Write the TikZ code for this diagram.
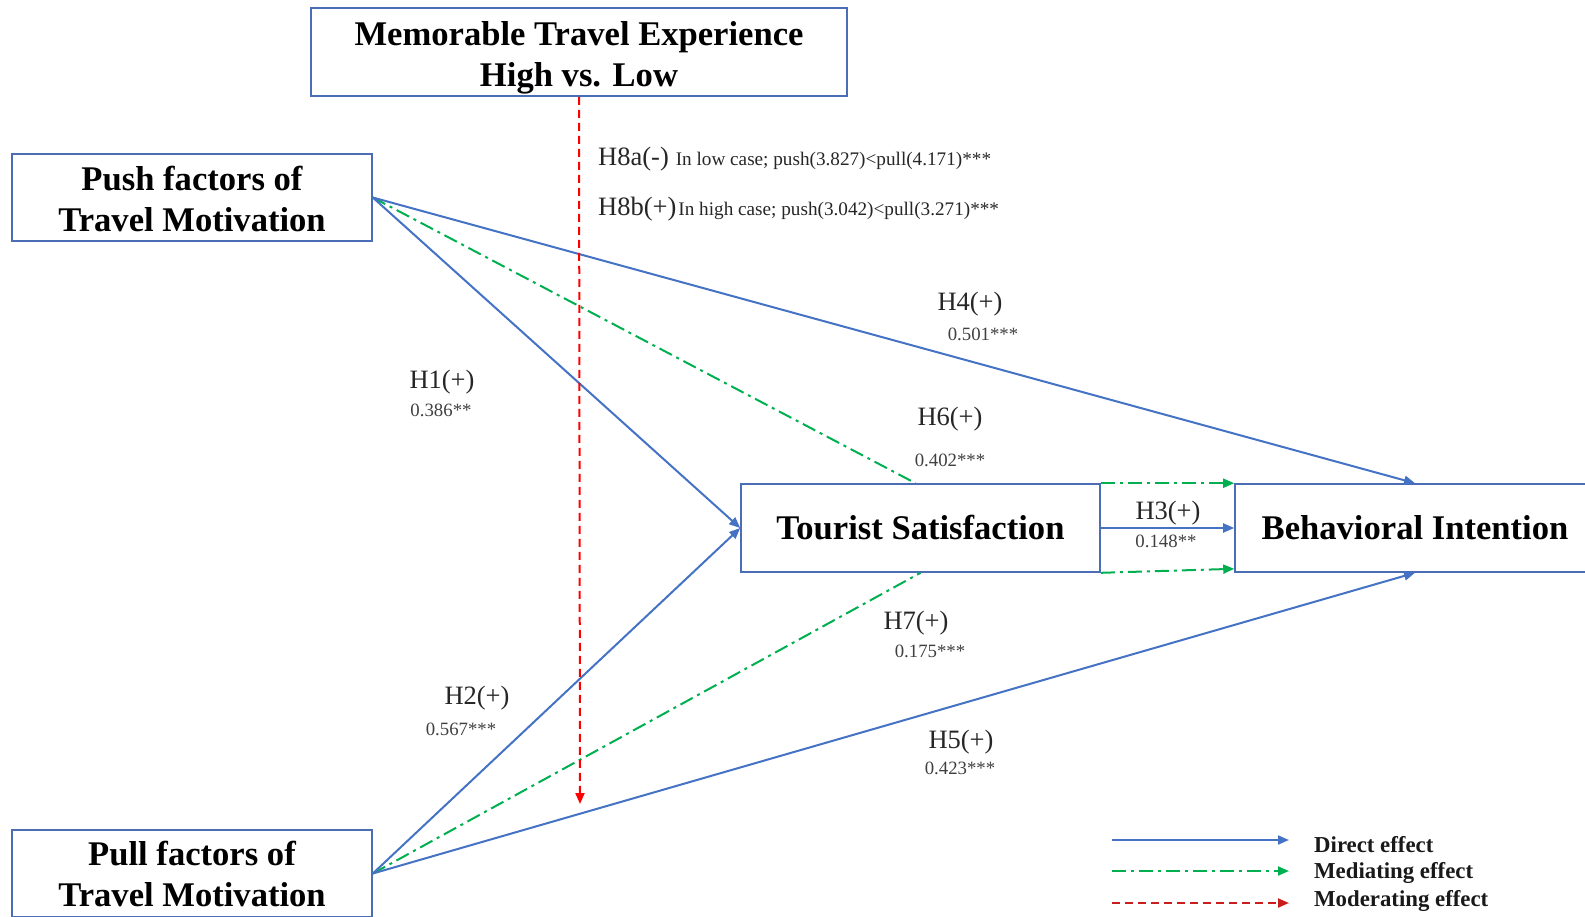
\documentclass[tikz,border=0pt]{standalone}
\usepackage{fontspec}
\setmainfont{Liberation Serif}
\usetikzlibrary{arrows.meta}
\definecolor{boxblue}{HTML}{4A6DB5}
\definecolor{pathblue}{HTML}{4472C4}
\definecolor{medgreen}{HTML}{00B050}
\definecolor{modred}{HTML}{FF0000}
\definecolor{legred}{HTML}{C81E1E}

\begin{document}
\begin{tikzpicture}[x=1pt,y=-1pt,
  construct/.style={draw=boxblue, line width=1.6pt, fill=white, rectangle,
    inner sep=0pt, align=center, font=\bfseries\fontsize{34.6}{41}\selectfont},
  tip/.style={-{Triangle[length=11pt,width=9pt]}},
  direct/.style={draw=pathblue, line width=2pt},
  mediate/.style={draw=medgreen, line width=2pt,
    dash pattern=on 14pt off 5pt on 3pt off 5pt},
  moderate/.style={draw=modred, line width=2pt, dash pattern=on 8pt off 5pt},
  hlab/.style={inner sep=0pt, text=black!85, font=\fontsize{26.5}{29}\selectfont},
  vlab/.style={inner sep=0pt, text=black!75, font=\fontsize{18.8}{21}\selectfont},
  legtext/.style={inner sep=0pt, anchor=west, text=black!90,
    font=\bfseries\fontsize{22.8}{25}\selectfont}
]
\useasboundingbox (0,0) rectangle (1585,916);

% constructs
\node[construct, minimum width=536pt, minimum height=88pt] (mte) at (579,52)
  {\rule{0pt}{35pt}Memorable Travel Experience\\High vs. Low};
\node[construct, minimum width=360pt, minimum height=87pt] (push) at (192,197.5)
  {\rule{0pt}{27pt}Push factors of\\Travel Motivation};
\node[construct, minimum width=360pt, minimum height=87pt] (pull) at (192,873.5)
  {Pull factors of\\Travel Motivation};
\node[construct, minimum width=359pt, minimum height=88pt] (ts) at (920.5,528)
  {Tourist Satisfaction};
\node[construct, minimum width=360pt, minimum height=88pt] (bi) at (1415,528)
  {Behavioral Intention};

% mediating paths
\draw[mediate] (push.east) -- ([xshift=-5pt]ts.north);
\draw[mediate] (pull.east) -- (ts.south);
\draw[mediate, tip] (ts.north east) -- (bi.north west);
\draw[mediate, tip] (ts.south east) -- ([yshift=4pt]bi.south west);

% direct paths
\draw[direct, tip] (push.east) -- (ts.west);
\draw[direct, tip] (push.east) -- (bi.north);
\draw[direct, tip] (pull.east) -- (ts.west);
\draw[direct, tip] (pull.east) -- (bi.south);
\draw[direct, tip] (ts.east) -- (bi.west);

% moderating path
\coordinate (modend) at (580,804);
\draw[moderate, tip] (mte.south) -- (modend);

% path labels
\node[hlab, anchor=west] (h8a) at (598,159)
  {H8a(-)\hspace{7pt}{\fontsize{19.2}{21}\selectfont In low case; push(3.827)<pull(4.171)***}};
\node[hlab, anchor=west] (h8b) at (598,209)
  {H8b(+)\hspace{2pt}{\fontsize{19.2}{21}\selectfont In high case; push(3.042)<pull(3.271)***}};

\node[hlab] (h4) at (970,304) {H4(+)};
\node[vlab] (v4) at (983,334) {0.501***};
\node[hlab] (h1) at (442,382) {H1(+)};
\node[vlab] (v1) at (441,410) {0.386**};
\node[hlab] (h6) at (950,419) {H6(+)};
\node[vlab] (v6) at (950,460) {0.402***};
\node[hlab] (h3) at (1168,513) {H3(+)};
\node[vlab] (v3) at (1166,541) {0.148**};
\node[hlab] (h7) at (916,623) {H7(+)};
\node[vlab] (v7) at (930,651) {0.175***};
\node[hlab] (h2) at (477,698) {H2(+)};
\node[vlab] (v2) at (461,729) {0.567***};
\node[hlab] (h5) at (961,742) {H5(+)};
\node[vlab] (v5) at (960,768) {0.423***};

% legend
\coordinate (ldA) at (1112,840);
\coordinate (ldB) at (1289,840);
\coordinate (lmA) at (1112,871);
\coordinate (lmB) at (1289,871);
\coordinate (loA) at (1112,903);
\coordinate (loB) at (1289,903);
\draw[direct, tip] (ldA) -- (ldB);
\draw[mediate, tip] (lmA) -- (lmB);
\draw[moderate, draw=legred, tip] (loA) -- (loB);
\node[legtext] (ld) at (1314,845) {Direct effect};
\node[legtext] (lm) at (1314,873) {Mediating effect};
\node[legtext] (lo) at (1314,901) {Moderating effect};
\end{tikzpicture}
\end{document}
